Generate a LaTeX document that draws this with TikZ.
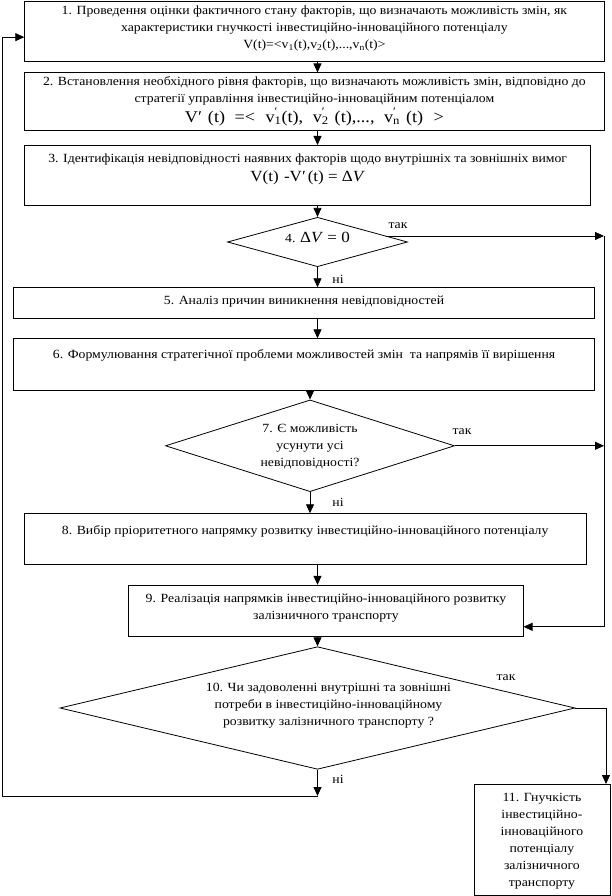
\documentclass[tikz,border=0pt]{standalone}
\usepackage{fontspec}
\setmainfont{Liberation Serif}[FakeStretch=1.1]
\usetikzlibrary{shapes.geometric,arrows.meta,calc}
\newcommand{\zt}[2][0pt]{\makebox[0pt]{\raisebox{#1}{\smash{\begin{tabular}[c]{@{}c@{}}#2\end{tabular}}}}}
\newcommand{\vsub}[1]{v\textsubscript{#1}}
\newcommand{\vps}[1]{v\rlap{\textsuperscript{′}}\textsubscript{#1}}
\newcommand{\bigf}{\fontsize{15.5}{17}\selectfont}
\begin{document}
\begin{tikzpicture}[x=1pt,y=-1pt,
  every node/.style={font=\fontsize{12.5}{17}\selectfont},
  box/.style={draw,rectangle,line width=0.8pt,inner sep=0pt,anchor=north west},
  dia/.style={draw,diamond,line width=0.8pt,inner sep=0pt},
  lbl/.style={inner sep=0pt,font=\fontsize{12.5}{17}\selectfont},
  arr/.style={line width=0.8pt,-{Triangle[length=9pt,width=8pt]}},
  ln/.style={line width=0.8pt}]
\useasboundingbox (0,0) rectangle (612,896);
% boxes
\node[box,minimum width=579.4pt,minimum height=60.5pt] (b1) at (24.3,1)
 {\zt[0.5pt]{\fontsize{12.5}{15}\selectfont 1. Проведення оцінки фактичного стану факторів, що визначають можливість змін, як\\
 характеристики гнучкості інвестиційно-інноваційного потенціалу\\
 V(t)=<\vsub{1}(t),\vsub{2}(t),...,\vsub{n}(t)>}};
\node[box,minimum width=579.4pt,minimum height=57.5pt] (b2) at (24.3,72.5)
 {\zt[-3pt]{2. Встановлення необхідного рівня факторів, що визначають можливість змін, відповідно до\\
 стратегії управління інвестиційно-інноваційним потенціалом\\[1pt]
 {\fontsize{16.5}{17}\selectfont V′\hspace{6pt}(t) \hspace{5pt}=<\hspace{6pt} \vps{1}(t), \hspace{5pt}\vps{2}\hspace{6pt}(t),..., \hspace{5pt}\vps{n}\hspace{6pt}(t) \hspace{6pt}>}}};
\node[box,minimum width=566pt,minimum height=60pt] (b3) at (24.3,145)
 {\zt[7pt]{3. Ідентифікація невідповідності наявних факторів щодо внутрішніх та зовнішніх вимог\\[2pt]
 {\bigf V(t) \hspace{1pt}-V′\hspace{2pt}(t) = Δ\textit{V}}}};
\node[dia,minimum width=180pt,minimum height=49.4pt] (d4) at (317.5,242)
 {\zt[-1pt]{4. {\bigf Δ\textit{V} = 0}}};
\node[box,minimum width=580.7pt,minimum height=31pt] (b5) at (13.3,287.3)
 {\zt[-2pt]{5. Аналіз причин виникнення невідповідностей}};
\node[box,minimum width=580.7pt,minimum height=51.7pt] (b6) at (13.3,338.3)
 {\zt[12pt]{6. Формулювання стратегічної проблеми можливостей змін~ та напрямів її вирішення}};
\node[dia,minimum width=289pt,minimum height=91.7pt] (d7) at (310,445.8)
 {\zt[-6pt]{7. Є можливість\\ усунути усі\\ невідповідності?}};
\node[box,minimum width=561.6pt,minimum height=50.5pt] (b8) at (24,513.3)
 {\zt[10pt]{8. Вибір пріоритетного напрямку розвитку інвестиційно-інноваційного потенціалу}};
\node[box,minimum width=394.4pt,minimum height=51.2pt] (b9) at (128.3,584.8)
 {\zt[1pt]{9. Реалізація напрямків інвестиційно-інноваційного розвитку\\ залізничного транспорту}};
\node[dia,minimum width=515pt,minimum height=122.6pt] (d10) at (317.5,708)
 {\zt[-1pt]{\hspace{22pt}10. Чи задоволенні внутрішні та зовнішні\\ \hspace{22pt}потреби в інвестиційно-інноваційному\\ \hspace{22pt}розвитку залізничного транспорту ?}};
\node[box,minimum width=136pt,minimum height=111pt] (b11) at (473.5,784)
 {\zt[-8pt]{\fontsize{12.5}{18.5}\selectfont 11. Гнучкість\\ інвестиційно-\\ інноваційного\\ потенціалу\\ залізничного\\ транспорту}};
% labels
\node[lbl] (t4) at (398,226) {так};
\node[lbl] (n4) at (338,279) {ні};
\node[lbl] (t7) at (462,432) {так};
\node[lbl] (n7) at (338,502) {ні};
\node[lbl] (t10) at (506,678) {так};
\node[lbl] (n10) at (338,779) {ні};
% coordinates
\coordinate (ax) at (317.5,0);
\coordinate (rl) at (604,0);
\coordinate (d4t) at ($(d4.east)!0.24!(d4.north)$);
\coordinate (b9in) at ($(b9.east)+(0,16)$);
\coordinate (c10) at (606,708);
\coordinate (loopc) at (317.5,796);
\coordinate (loopl) at (2,796);
% main flow
\draw[arr] (b1.south -| ax) -- (b2.north -| ax);
\draw[arr] (b2.south -| ax) -- (b3.north -| ax);
\draw[arr] (b3.south -| ax) -- (d4.north);
\draw[arr] (d4.south) -- (b5.north -| ax);
\draw[arr] (b5.south -| ax) -- (b6.north -| ax);
\draw[arr] (b6.south -| d7.north) -- (d7.north);
\draw[arr] (d7.south) -- (b8.north -| d7.south);
\draw[arr] (b8.south -| ax) -- (b9.north -| ax);
\draw[arr] (b9.south -| ax) -- (d10.north);
% yes branches
\draw[arr] (d4t) -- (d4t -| rl);
\draw[arr] (d7.east) -- (d7.east -| rl);
\draw[arr] (d4t -| rl) -- (b9in -| rl) -- (b9in);
\draw[arr] (d10.east) -- (c10) -- (b11.north -| c10);
% no branch of 10, loop back
\draw[arr] (d10.south) -- (loopc);
\draw[arr] (loopc) -- (loopl) |- ($(b1.west)+(0,5.5)$);
\end{tikzpicture}
\end{document}
